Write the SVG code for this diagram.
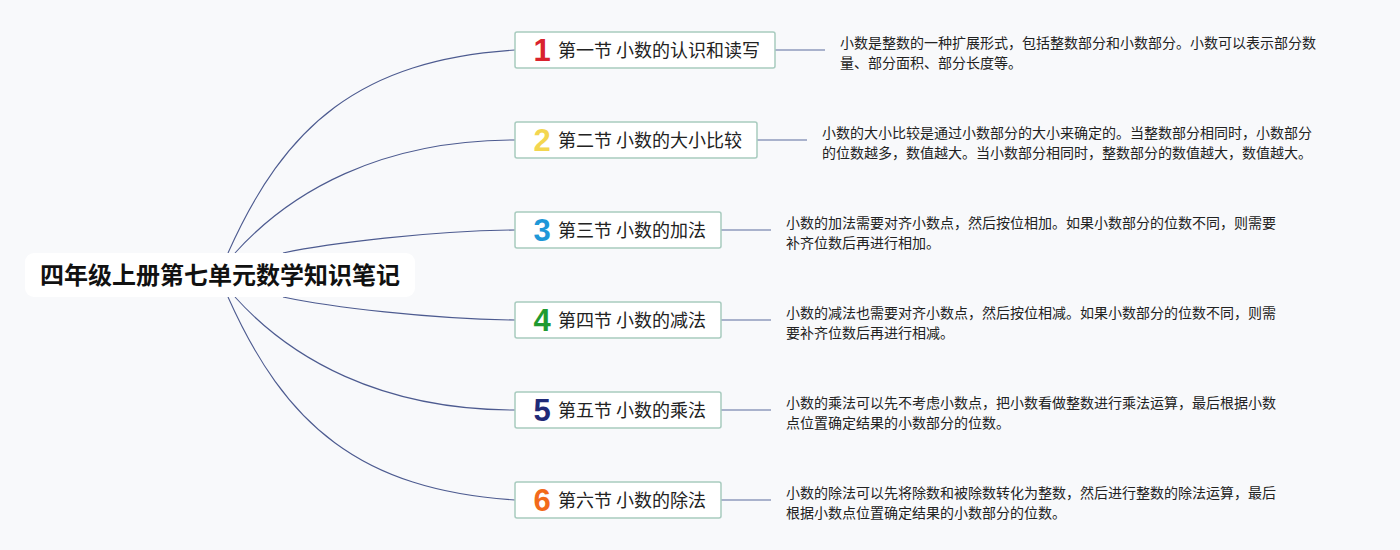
<svg xmlns="http://www.w3.org/2000/svg" width="1400" height="550" viewBox="0 0 1400 550">
<style>
.bg{fill:#f8f9fb}
.curve{fill:none;stroke:#4d5b90;stroke-width:1.1}
.hline{fill:none;stroke:#8f9abd;stroke-width:1.5}
.box{fill:#ffffff;stroke:#a8cbbf;stroke-width:1.5}
.root{fill:#ffffff}
.rt{font-family:"Noto Sans CJK SC","Noto Sans",sans-serif;font-size:24px;font-weight:bold;fill:#111111;text-anchor:middle}
.lbl{font-family:"Noto Sans CJK SC","Noto Sans",sans-serif;font-size:18px;fill:#222222}
.num{font-family:"Liberation Sans","Arial",sans-serif;font-size:31px;font-weight:bold;text-anchor:middle}
.desc{font-family:"Noto Sans CJK SC","Noto Sans",sans-serif;font-size:14px;fill:#222222}
</style>
<rect class="bg" x="0" y="0" width="1400" height="550"/>
<g id="connectors">
<path class="curve" d="M228,253 C285,125 360,60 515,50"/>
<path class="curve" d="M235,253 C290,192 380,140 515,140"/>
<path class="curve" d="M283,253 C330,243 430,231 515,230"/>
<path class="curve" d="M283,297 C330,307 430,319 515,320"/>
<path class="curve" d="M235,297 C290,358 380,410 515,410"/>
<path class="curve" d="M228,297 C285,425 360,490 515,500"/>
<line class="hline" x1="775" y1="50" x2="825" y2="50"/>
<line class="hline" x1="757" y1="140" x2="807" y2="140"/>
<line class="hline" x1="721" y1="230" x2="771" y2="230"/>
<line class="hline" x1="721" y1="320" x2="771" y2="320"/>
<line class="hline" x1="721" y1="410" x2="771" y2="410"/>
<line class="hline" x1="721" y1="500" x2="771" y2="500"/>
</g>
<g id="root">
<rect class="root" x="25" y="253" width="390" height="44" rx="9"/>
<text class="rt" x="220" y="284">四年级上册第七单元数学知识笔记</text>
</g>
<g id="node1">
<rect class="box" x="515" y="32" width="260" height="36" rx="2"/>
<text class="num" x="542" y="61" fill="#d9232e">1</text>
<text class="lbl" x="558" y="57">第一节 小数的认识和读写</text>
<text class="desc" x="840" y="48">小数是整数的一种扩展形式，包括整数部分和小数部分。小数可以表示部分数</text>
<text class="desc" x="840" y="68">量、部分面积、部分长度等。</text>
</g>
<g id="node2">
<rect class="box" x="515" y="122" width="242" height="36" rx="2"/>
<text class="num" x="542" y="151" fill="#f3d650">2</text>
<text class="lbl" x="558" y="147">第二节 小数的大小比较</text>
<text class="desc" x="822" y="138">小数的大小比较是通过小数部分的大小来确定的。当整数部分相同时，小数部分</text>
<text class="desc" x="822" y="158">的位数越多，数值越大。当小数部分相同时，整数部分的数值越大，数值越大。</text>
</g>
<g id="node3">
<rect class="box" x="515" y="212" width="206" height="36" rx="2"/>
<text class="num" x="542" y="241" fill="#1e98d8">3</text>
<text class="lbl" x="558" y="237">第三节 小数的加法</text>
<text class="desc" x="786" y="228">小数的加法需要对齐小数点，然后按位相加。如果小数部分的位数不同，则需要</text>
<text class="desc" x="786" y="248">补齐位数后再进行相加。</text>
</g>
<g id="node4">
<rect class="box" x="515" y="302" width="206" height="36" rx="2"/>
<text class="num" x="542" y="331" fill="#1f9a30">4</text>
<text class="lbl" x="558" y="327">第四节 小数的减法</text>
<text class="desc" x="786" y="318">小数的减法也需要对齐小数点，然后按位相减。如果小数部分的位数不同，则需</text>
<text class="desc" x="786" y="338">要补齐位数后再进行相减。</text>
</g>
<g id="node5">
<rect class="box" x="515" y="392" width="206" height="36" rx="2"/>
<text class="num" x="542" y="421" fill="#1f2a78">5</text>
<text class="lbl" x="558" y="417">第五节 小数的乘法</text>
<text class="desc" x="786" y="408">小数的乘法可以先不考虑小数点，把小数看做整数进行乘法运算，最后根据小数</text>
<text class="desc" x="786" y="428">点位置确定结果的小数部分的位数。</text>
</g>
<g id="node6">
<rect class="box" x="515" y="482" width="206" height="36" rx="2"/>
<text class="num" x="542" y="511" fill="#f26a1b">6</text>
<text class="lbl" x="558" y="507">第六节 小数的除法</text>
<text class="desc" x="786" y="498">小数的除法可以先将除数和被除数转化为整数，然后进行整数的除法运算，最后</text>
<text class="desc" x="786" y="518">根据小数点位置确定结果的小数部分的位数。</text>
</g>
</svg>
